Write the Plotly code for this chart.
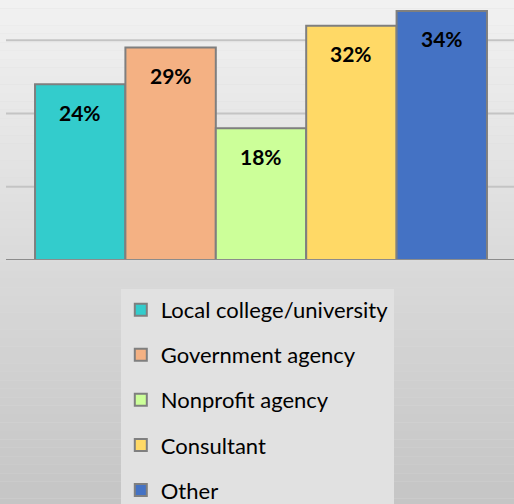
import plotly.graph_objects as go

categories = ["Local college/university", "Government agency", "Nonprofit agency", "Consultant", "Other"]
values = [24, 29, 18, 32, 34]
labels = ["24%", "29%", "18%", "32%", "34%"]
colors = ["#33CCCC", "#F4B183", "#CCFF99", "#FFD966", "#4472C4"]
gridvals = [10, 20, 30]

fig = go.Figure()
for i, (cat, v, c) in enumerate(zip(categories, values, colors)):
    fig.add_trace(go.Bar(
        x=[i], y=[v], width=1, name=cat, legendgroup=cat,
        marker=dict(color=c, line=dict(color="#7F7F7F", width=2)),
        hoverinfo="skip",
    ))
    fig.add_annotation(x=i, y=v, text=labels[i], showarrow=False, yanchor="middle",
                       yshift=-28, font=dict(family="Lato", size=21, color="black", weight="bold"))

# background gradient
shapes = []
n = 60
top = (0xF1, 0xF1, 0xF1)
bot = (0xC5, 0xC5, 0xC5)
for k in range(n):
    t = k / (n - 1)
    col = tuple(int(round(top[j] + (bot[j] - top[j]) * t)) for j in range(3))
    y0 = 1 - k / n
    y1 = 1 - (k + 1) / n
    shapes.append(dict(type="rect", xref="paper", yref="paper", x0=-0.03, x1=1.02,
                       y0=y1 * 1.95 - 0.95, y1=y0 * 1.95 - 0.95, layer="below",
                       line=dict(width=0), fillcolor="rgb(%d,%d,%d)" % col))
# gridlines
for g in gridvals:
    shapes.append(dict(type="line", xref="paper", yref="y", x0=0, x1=1, y0=g, y1=g,
                       layer="below", line=dict(color="#C4C4C4", width=2)))
shapes.append(dict(type="line", xref="paper", yref="y", x0=0, x1=1, y0=0, y1=0,
                   layer="above", line=dict(color="#8C8C8C", width=2)))

fig.update_layout(
    width=514, height=504,
    margin=dict(l=6, r=0, t=0, b=244, autoexpand=False),
    paper_bgcolor="#DCDCDC", plot_bgcolor="rgba(0,0,0,0)",
    barmode="overlay",
    shapes=shapes,
    xaxis=dict(range=[-0.821, 4.799], showticklabels=False, showgrid=False, zeroline=False, fixedrange=True),
    yaxis=dict(range=[0, 35.5], showticklabels=False, showgrid=False, zeroline=False, fixedrange=True),
    showlegend=True,
    legend=dict(x=0.226, y=-0.111, xanchor="left", yanchor="top", bgcolor="#E1E1E1",
                font=dict(family="Lato", size=22, color="black"),
                tracegroupgap=13.5, traceorder="grouped", itemclick=False, itemwidth=30),
)

fig.write_html("out.html", config={"displayModeBar": False},
               post_script="document.body.style.margin='0';document.body.style.overflow='hidden';")
